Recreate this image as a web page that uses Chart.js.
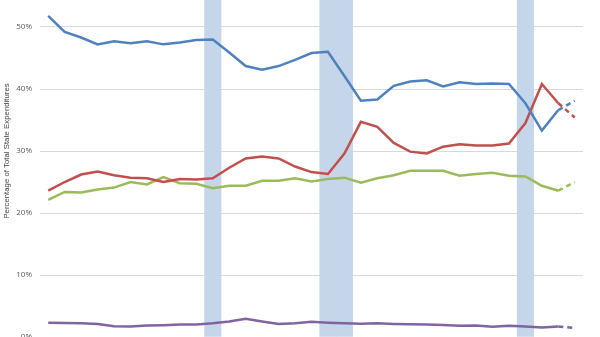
<!DOCTYPE html>
<html>
<head>
<meta charset="utf-8">
<script src="https://cdn.jsdelivr.net/npm/chart.js@4.4.1/dist/chart.umd.min.js"></script>
<style>
  html, body { margin: 0; padding: 0; background: #fff; }
  #frame { position: relative; width: 600px; height: 337px; overflow: hidden; }
  #wrap { position: absolute; left: 0; top: -50px; width: 600px; height: 400px; }
</style>
</head>
<body>
<div id="frame"><div id="wrap"><canvas id="myChart"></canvas></div></div>
<script>
// 33 years, last point of each series is a projection (dashed)
const years = [];
for (let y = 1980; y <= 2012; y++) years.push(String(y));

const blueVals = [51.8, 49.2, 48.3, 47.2, 47.7, 47.4, 47.7, 47.2, 47.5, 47.9, 48.0,
  45.9, 43.7, 43.1, 43.7, 44.7, 45.8, 46.0, 42.1, 38.1, 38.3, 40.5, 41.2,
  41.4, 40.4, 41.1, 40.8, 40.9, 40.8, 37.7, 33.3, 36.6, 38.1];
const redVals = [23.6, 25.0, 26.2, 26.7, 26.1, 25.7, 25.6, 25.0, 25.5, 25.4, 25.6,
  27.3, 28.8, 29.1, 28.8, 27.5, 26.6, 26.3, 29.6, 34.7, 33.9, 31.3, 29.9,
  29.6, 30.7, 31.1, 30.9, 30.9, 31.2, 34.5, 40.8, 37.7, 35.4];
const greenVals = [22.1, 23.4, 23.3, 23.8, 24.1, 25.0, 24.6, 25.8, 24.8, 24.7, 24.0,
  24.4, 24.4, 25.2, 25.2, 25.6, 25.1, 25.5, 25.7, 24.9, 25.6, 26.1, 26.8,
  26.8, 26.8, 26.0, 26.3, 26.5, 26.0, 25.9, 24.4, 23.6, 25.0];
const purpleVals = [2.3, 2.25, 2.2, 2.1, 1.75, 1.7, 1.85, 1.9, 2.0, 2.0, 2.2,
  2.5, 2.95, 2.5, 2.1, 2.2, 2.45, 2.3, 2.2, 2.15, 2.2, 2.1, 2.05,
  2.0, 1.95, 1.8, 1.85, 1.65, 1.8, 1.7, 1.55, 1.7, 1.45];
// shaded years
const shadeVals = years.map((y, i) => ([10, 17, 18, 29].includes(i) ? 60 : null));
const yTicks = [0, 10, 20, 30, 40, 50, 60];

const lastSeg = years.length - 2;
const dashLast = { borderDash: (c) => (c.p0DataIndex === lastSeg ? [5, 4] : undefined) };

function lineSet(data, color) {
  return {
    type: "line",
    data: data,
    borderColor: color,
    borderWidth: 2.5,
    pointRadius: 0,
    tension: 0,
    fill: false,
    order: 0,
    segment: dashLast,
  };
}

const chartOne = document.getElementById("myChart").getContext("2d");
const lineChart = new Chart(chartOne, {
  data: {
    labels: years,
    datasets: [
      lineSet(blueVals, "#4f81bd"),
      lineSet(redVals, "#c0504d"),
      lineSet(greenVals, "#9bbb59"),
      lineSet(purpleVals, "#8064a2"),
      {
        type: "bar",
        data: shadeVals,
        backgroundColor: "#c6d6ea",
        barPercentage: 1,
        categoryPercentage: 1,
        order: 10,
      },
    ],
  },
  options: {
    responsive: true,
    maintainAspectRatio: false,
    animation: false,
    layout: { padding: { top: 15, right: 17, bottom: 13, left: 0 } },
    plugins: { legend: { display: false }, tooltip: { enabled: false } },
    scales: {
      x: { display: false },
      y: {
        min: 0,
        max: 60,
        afterFit: (s) => { s.width = 40; },
        afterBuildTicks: (s) => { s.ticks = yTicks.map((v) => ({ value: v })); },
        border: { display: false },
        grid: {
          drawTicks: false,
          lineWidth: 1,
          color: (c) => (c.tick && c.tick.value === 0 ? "#c6d6ea" : "#d9d9d9"),
        },
        ticks: {
          padding: 8,
          color: "#595959",
          font: { family: "'Open Sans'", size: 8 },
          callback: (v) => v + "%",
        },
        title: {
          display: true,
          text: "Percentage of Total State Expenditures",
          color: "#404040",
          padding: { top: 2, bottom: 0 },
          font: { family: "'Liberation Sans'", size: 7.8 },
        },
      },
    },
  },
});
</script>
</body>
</html>
